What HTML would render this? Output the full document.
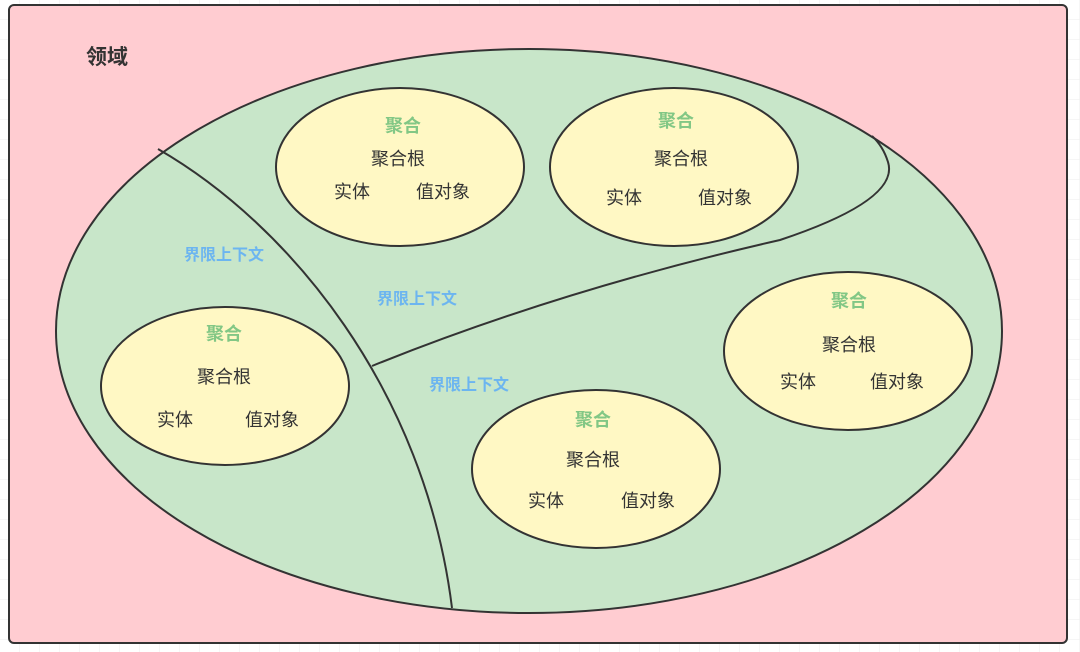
<!DOCTYPE html>
<html><head><meta charset="utf-8"><style>
html,body{margin:0;padding:0;background:#fff;}
svg{display:block;}
text{font-family:"Liberation Sans","Noto Sans CJK SC",sans-serif;}
</style></head><body>
<svg width="1080" height="652" viewBox="0 0 1080 652" xmlns="http://www.w3.org/2000/svg">
<defs><pattern id="g" width="20" height="20" patternUnits="userSpaceOnUse"><path d="M20 0V20H0" fill="none" stroke="#eee" stroke-width="1"/></pattern></defs>
<rect width="1080" height="652" fill="url(#g)"/>
<rect x="9" y="5" width="1058" height="638" rx="5" fill="#ffccd1" stroke="#333" stroke-width="2"/>
<text x="107" y="64" font-size="21" font-weight="bold" fill="#333" text-anchor="middle">领域</text>
<ellipse cx="529" cy="331" rx="473" ry="282" fill="#c8e6c9" stroke="#333" stroke-width="2"/>
<path d="M158 149 C290 225 425 390 452 608" fill="none" stroke="#333" stroke-width="2"/>
<path d="M372 366 Q560 290 780 240 Q900 200 888 162 Q883 146 872 136" fill="none" stroke="#333" stroke-width="2"/>
<g fill="#fff8c4" stroke="#333" stroke-width="2">
<ellipse cx="400" cy="167" rx="124" ry="79"/>
<ellipse cx="674" cy="167" rx="124" ry="79"/>
<ellipse cx="848" cy="351" rx="124" ry="79"/>
<ellipse cx="225" cy="386" rx="124" ry="79"/>
<ellipse cx="596" cy="469" rx="124" ry="79"/>
</g>
<g font-size="18" font-weight="bold" fill="#82c785" text-anchor="middle">
<text x="403" y="132">聚合</text><text x="676" y="127">聚合</text><text x="849" y="307">聚合</text><text x="224" y="340">聚合</text><text x="593" y="426">聚合</text>
</g>
<g font-size="18" fill="#333" text-anchor="middle">
<text x="398" y="165">聚合根</text><text x="352" y="198">实体</text><text x="443" y="198">值对象</text>
<text x="681" y="165">聚合根</text><text x="624" y="204">实体</text><text x="725" y="204">值对象</text>
<text x="849" y="351">聚合根</text><text x="798" y="388">实体</text><text x="897" y="388">值对象</text>
<text x="224" y="383">聚合根</text><text x="175" y="426">实体</text><text x="272" y="426">值对象</text>
<text x="593" y="466">聚合根</text><text x="546" y="507">实体</text><text x="648" y="507">值对象</text>
</g>
<g font-size="16" font-weight="bold" fill="#6cb5f0" text-anchor="middle">
<text x="224" y="260">界限上下文</text><text x="417" y="304">界限上下文</text><text x="469" y="390">界限上下文</text>
</g>
</svg>
</body></html>
